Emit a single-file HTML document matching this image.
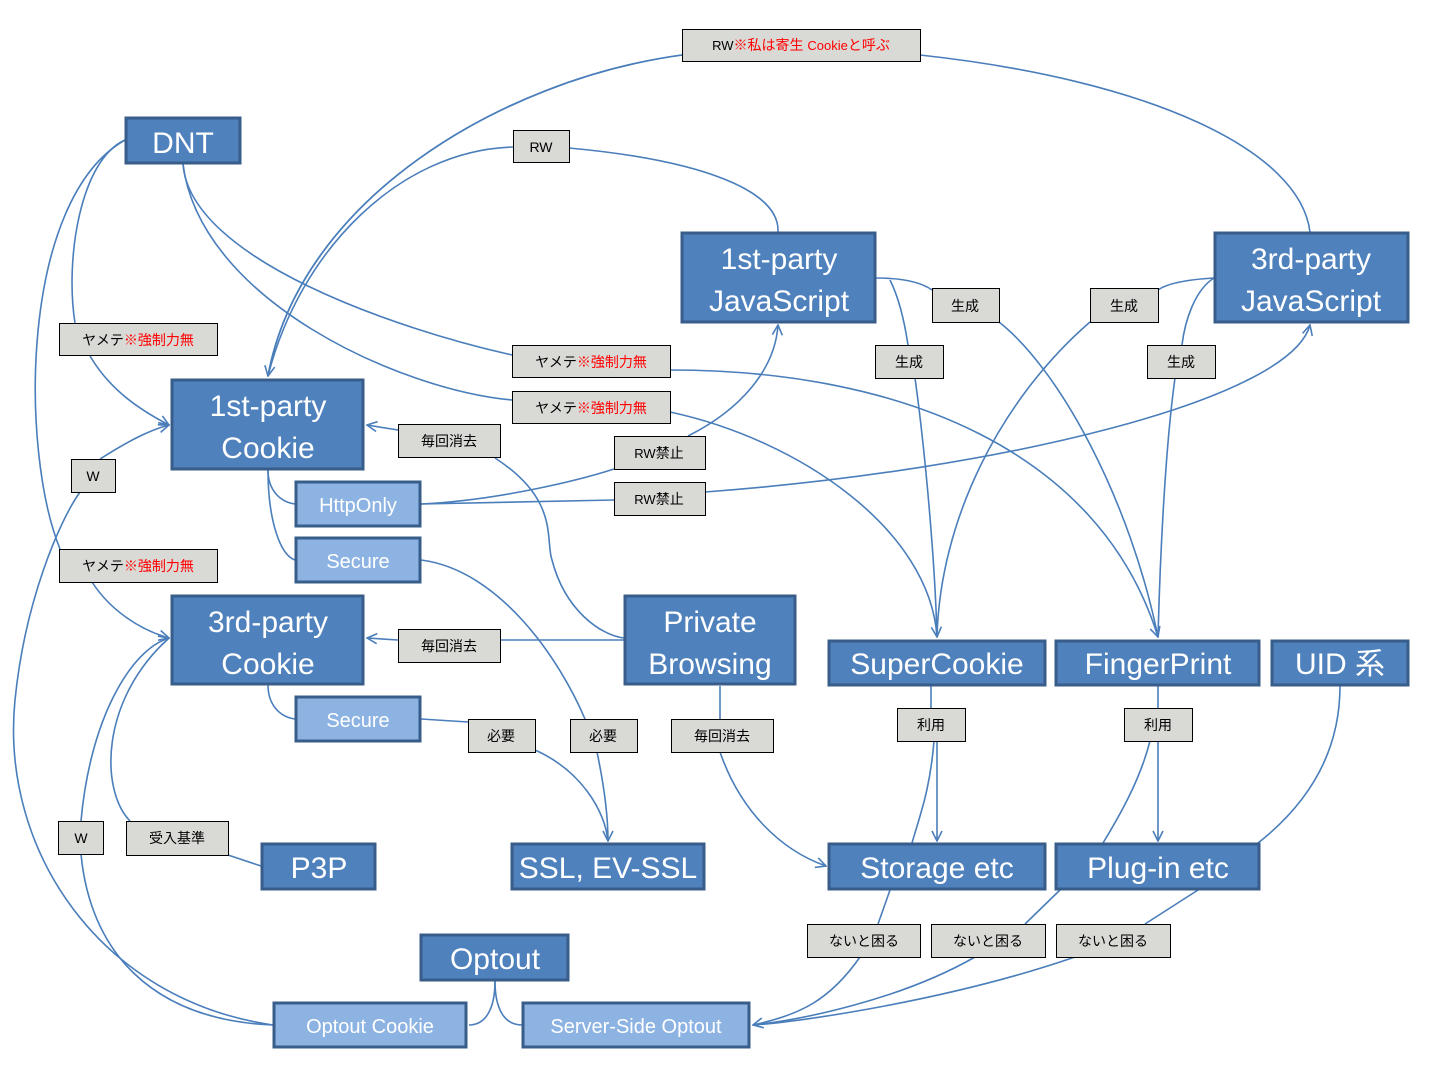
<!DOCTYPE html>
<html><head><meta charset="utf-8"><style>
body{margin:0;background:#fff}
svg{display:block}
.n{fill:#4f81bd;stroke:#385d8a;stroke-width:3}
.l{fill:#8db3e2;stroke:#385d8a;stroke-width:3}
.t{fill:#fff;font-family:"Liberation Sans","Noto Sans CJK JP",sans-serif;text-anchor:middle}
.g{fill:#d9d9d6;stroke:#000;stroke-width:1}
.gt{font-family:"Liberation Sans","Noto Sans CJK JP",sans-serif;font-size:14px;text-anchor:middle;fill:#000}
.r{fill:#f00}
path{fill:none;stroke:#4a7ebb;stroke-width:1.6}
</style></head><body>
<svg width="1433" height="1070" viewBox="0 0 1433 1070" xmlns="http://www.w3.org/2000/svg">
<defs><marker id="a" viewBox="0 0 12 12" refX="11" refY="6" markerWidth="12" markerHeight="12" markerUnits="userSpaceOnUse" orient="auto"><polyline points="1,1 11,6 1,11" fill="none" stroke="#4a7ebb" stroke-width="1.6"/></marker></defs>
<g>
<path d="M268,376 C300,200 500,80 682,55" marker-end="url(#a)" style="marker-end:none"/>
<path d="M682,55 C500,80 300,200 268,376" marker-end="url(#a)"/>
<path d="M920,55 C1150,80 1300,150 1310,232"/>
<path d="M513,147 C400,150 300,250 268,376"/>
<path d="M569,148 C700,160 780,190 778,232"/>
<path d="M125,140 C80,160 65,260 75,323"/>
<path d="M90,356 C110,390 140,410 169,425" marker-end="url(#a)"/>
<path d="M125,140 C20,200 20,450 60,549"/>
<path d="M92,582 C110,610 140,630 169,638" marker-end="url(#a)"/>
<path d="M183,164 C190,260 400,330 512,355"/>
<path d="M670,370 C900,370 1100,450 1158,637" marker-end="url(#a)"/>
<path d="M183,164 C200,300 400,390 512,400"/>
<path d="M670,412 C800,440 930,530 937,637" marker-end="url(#a)"/>
<path d="M398,430 L367,425" marker-end="url(#a)"/>
<path d="M495,458 C560,500 545,540 552,560 C565,610 600,635 624,638"/>
<path d="M421,504 C500,500 580,480 614,469"/>
<path d="M688,436 C740,410 775,370 778,325" marker-end="url(#a)"/>
<path d="M421,504 L614,500"/>
<path d="M705,492 C1000,470 1290,400 1310,325" marker-end="url(#a)"/>
<path d="M268,470 C268,490 280,502 295,504"/>
<path d="M268,470 C268,520 280,555 295,560"/>
<path d="M421,560 C500,570 560,660 585,719"/>
<path d="M597,752 C605,790 608,820 608,841" marker-end="url(#a)"/>
<path d="M421,719 L468,722"/>
<path d="M535,750 C580,770 605,810 608,841"/>
<path d="M268,685 C268,705 280,717 295,719"/>
<path d="M624,640 L500,640"/>
<path d="M398,640 L367,638" marker-end="url(#a)"/>
<path d="M720,686 L720,719"/>
<path d="M720,752 C740,810 780,850 826,866" marker-end="url(#a)"/>
<path d="M876,278 C910,278 925,285 932,290"/>
<path d="M999,322 C1060,370 1130,500 1158,637"/>
<path d="M890,280 C900,300 905,325 908,345"/>
<path d="M915,378 C925,450 935,560 937,637"/>
<path d="M1214,278 C1180,280 1165,285 1158,290"/>
<path d="M1090,322 C1000,400 940,520 937,637"/>
<path d="M1214,278 C1195,290 1185,320 1182,345"/>
<path d="M1175,378 C1165,450 1160,560 1158,637"/>
<path d="M931,686 L931,708"/>
<path d="M937,741 L937,841" marker-end="url(#a)"/>
<path d="M934,741 C930,790 920,815 912,843"/>
<path d="M1158,686 L1158,708"/>
<path d="M1158,741 L1158,841" marker-end="url(#a)"/>
<path d="M1150,741 C1140,780 1120,815 1103,843"/>
<path d="M1340,686 C1340,760 1300,810 1258,843"/>
<path d="M890,890 L878,924"/>
<path d="M860,957 C830,1000 800,1015 753,1025" marker-end="url(#a)"/>
<path d="M1060,890 L1025,924"/>
<path d="M975,957 C900,1000 800,1020 753,1025"/>
<path d="M1198,890 L1145,924"/>
<path d="M1075,957 C950,1000 800,1022 753,1025"/>
<path d="M495,981 C495,1010 485,1025 469,1025"/>
<path d="M495,981 C495,1010 505,1025 522,1025"/>
<path d="M273,1025 C150,1020 90,950 81,854"/>
<path d="M81,821 C90,720 130,650 169,638" marker-end="url(#a)"/>
<path d="M273,1025 C100,1000 0,850 15,700 C25,600 60,520 80,492"/>
<path d="M100,459 C130,440 150,430 169,425" marker-end="url(#a)"/>
<path d="M261,866 L228,855"/>
<path d="M130,821 C100,790 100,700 169,638"/>
</g>
<g>
<rect class="n" x="126" y="118" width="114" height="45"/><text class="t" x="183" y="153" font-size="30">DNT</text>
<rect class="n" x="682" y="233" width="193" height="89"/><text class="t" x="779" y="269" font-size="30">1st-party</text><text class="t" x="779" y="311" font-size="30">JavaScript</text>
<rect class="n" x="1215" y="233" width="193" height="89"/><text class="t" x="1311" y="269" font-size="30">3rd-party</text><text class="t" x="1311" y="311" font-size="30">JavaScript</text>
<rect class="n" x="172" y="380" width="191" height="89"/><text class="t" x="268" y="416" font-size="30">1st-party</text><text class="t" x="268" y="458" font-size="30">Cookie</text>
<rect class="l" x="296" y="482" width="124" height="44"/><text class="t" x="358" y="512" font-size="20">HttpOnly</text>
<rect class="l" x="296" y="538" width="124" height="44"/><text class="t" x="358" y="568" font-size="20">Secure</text>
<rect class="n" x="172" y="596" width="191" height="88"/><text class="t" x="268" y="632" font-size="30">3rd-party</text><text class="t" x="268" y="674" font-size="30">Cookie</text>
<rect class="l" x="296" y="697" width="124" height="44"/><text class="t" x="358" y="727" font-size="20">Secure</text>
<rect class="n" x="625" y="596" width="170" height="88"/><text class="t" x="710" y="632" font-size="30">Private</text><text class="t" x="710" y="674" font-size="30">Browsing</text>
<rect class="n" x="829" y="641" width="216" height="44"/><text class="t" x="937" y="674" font-size="30">SuperCookie</text>
<rect class="n" x="1056" y="641" width="203" height="44"/><text class="t" x="1158" y="674" font-size="30">FingerPrint</text>
<rect class="n" x="1272" y="641" width="136" height="44"/><text class="t" x="1340" y="674" font-size="30">UID 系</text>
<rect class="n" x="262" y="844" width="113" height="45"/><text class="t" x="319" y="878" font-size="30">P3P</text>
<rect class="n" x="512" y="844" width="192" height="45"/><text class="t" x="608" y="878" font-size="30">SSL, EV-SSL</text>
<rect class="n" x="829" y="844" width="216" height="45"/><text class="t" x="937" y="878" font-size="30">Storage etc</text>
<rect class="n" x="1056" y="844" width="203" height="45"/><text class="t" x="1158" y="878" font-size="30">Plug-in etc</text>
<rect class="n" x="421" y="935" width="147" height="45"/><text class="t" x="495" y="969" font-size="30">Optout</text>
<rect class="l" x="274" y="1003" width="192" height="44"/><text class="t" x="370" y="1033" font-size="20">Optout Cookie</text>
<rect class="l" x="523" y="1003" width="226" height="44"/><text class="t" x="636" y="1033" font-size="20">Server-Side Optout</text>
</g>
<g>
<rect class="g" x="682.5" y="29.5" width="238" height="32"/><text class="gt" x="801" y="50"><tspan font-size="13">RW</tspan><tspan class="r">※私は寄生 <tspan font-size="13">Cookie</tspan>と呼ぶ</tspan></text>
<rect class="g" x="513.5" y="130.5" width="56" height="32"/><text class="gt" x="541" y="152" font-size="13">RW</text>
<rect class="g" x="59.5" y="323.5" width="158" height="32"/><text class="gt" x="138" y="345">ヤメテ<tspan class="r">※強制力無</tspan></text>
<rect class="g" x="512.5" y="345.5" width="158" height="32"/><text class="gt" x="591" y="367">ヤメテ<tspan class="r">※強制力無</tspan></text>
<rect class="g" x="512.5" y="391.5" width="158" height="32"/><text class="gt" x="591" y="413">ヤメテ<tspan class="r">※強制力無</tspan></text>
<rect class="g" x="398.5" y="424.5" width="102" height="33"/><text class="gt" x="449" y="446">毎回消去</text>
<rect class="g" x="614.5" y="436.5" width="91" height="33"/><text class="gt" x="659" y="458"><tspan font-size="13">RW</tspan>禁止</text>
<rect class="g" x="614.5" y="482.5" width="91" height="33"/><text class="gt" x="659" y="504"><tspan font-size="13">RW</tspan>禁止</text>
<rect class="g" x="71.5" y="459.5" width="44" height="33"/><text class="gt" x="93" y="481" font-size="13">W</text>
<rect class="g" x="932.5" y="288.5" width="67" height="34"/><text class="gt" x="965" y="311">生成</text>
<rect class="g" x="1090.5" y="288.5" width="68" height="34"/><text class="gt" x="1124" y="311">生成</text>
<rect class="g" x="875.5" y="345.5" width="68" height="33"/><text class="gt" x="909" y="367">生成</text>
<rect class="g" x="1147.5" y="345.5" width="68" height="33"/><text class="gt" x="1181" y="367">生成</text>
<rect class="g" x="59.5" y="549.5" width="158" height="33"/><text class="gt" x="138" y="571">ヤメテ<tspan class="r">※強制力無</tspan></text>
<rect class="g" x="398.5" y="629.5" width="102" height="33"/><text class="gt" x="449" y="651">毎回消去</text>
<rect class="g" x="468.5" y="719.5" width="67" height="33"/><text class="gt" x="501" y="741">必要</text>
<rect class="g" x="570.5" y="719.5" width="67" height="33"/><text class="gt" x="603" y="741">必要</text>
<rect class="g" x="671.5" y="719.5" width="102" height="33"/><text class="gt" x="722" y="741">毎回消去</text>
<rect class="g" x="897.5" y="708.5" width="68" height="33"/><text class="gt" x="931" y="730">利用</text>
<rect class="g" x="1124.5" y="708.5" width="68" height="33"/><text class="gt" x="1158" y="730">利用</text>
<rect class="g" x="58.5" y="821.5" width="45" height="33"/><text class="gt" x="81" y="843" font-size="13">W</text>
<rect class="g" x="126.5" y="821.5" width="102" height="34"/><text class="gt" x="177" y="843">受入基準</text>
<rect class="g" x="807.5" y="924.5" width="113" height="33"/><text class="gt" x="864" y="946">ないと困る</text>
<rect class="g" x="931.5" y="924.5" width="114" height="33"/><text class="gt" x="988" y="946">ないと困る</text>
<rect class="g" x="1056.5" y="924.5" width="114" height="33"/><text class="gt" x="1113" y="946">ないと困る</text>
</g>
</svg>
</body></html>
